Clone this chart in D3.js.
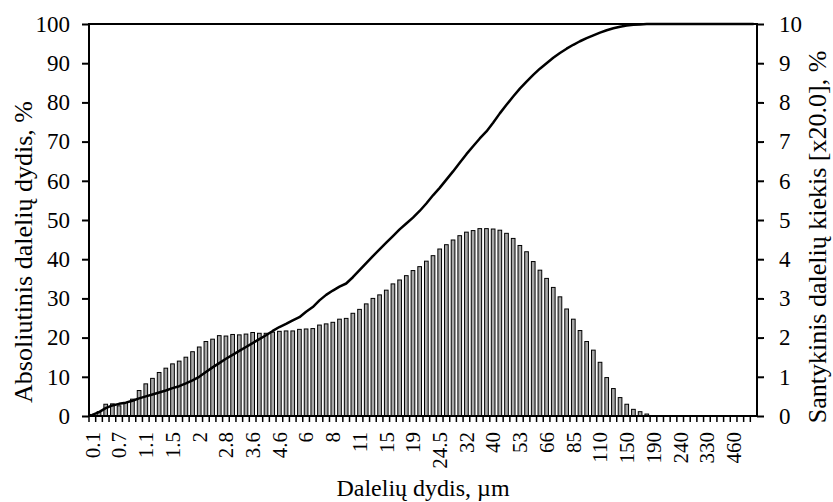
<!DOCTYPE html>
<html>
<head>
<meta charset="utf-8">
<script src="https://cdn.jsdelivr.net/npm/d3@7"></script>
<style>
  body { margin: 0; background: #fff; }
  text { font-family: "Liberation Serif", "Times New Roman", serif; fill: #000; }
</style>
</head>
<body>
<div id="chart"></div>
<script>

var margin = {top: 24, right: 76, bottom: 86, left: 89};
var width = 833 - margin.left - margin.right;
var height = 502 - margin.top - margin.bottom;

// size classes, one label for every 4th class
var classCount = 100;
var tickLabels = ["0.1", "0.7", "1.1", "1.5", "2", "2.8", "3.6", "4.6", "6", "8", "11", "15", "19",
  "24.5", "32", "40", "53", "66", "85", "110", "150", "190", "240", "330", "460"];
var labelStep = 4;

// bars, right axis (relative amount x20, %)
var relative = [0.04, 0.11, 0.30, 0.31, 0.26, 0.34, 0.43, 0.65, 0.82, 0.96,
  1.11, 1.22, 1.33, 1.40, 1.50, 1.64, 1.76, 1.90, 1.96, 2.05,
  2.04, 2.08, 2.07, 2.09, 2.13, 2.11, 2.11, 2.14, 2.16, 2.17,
  2.17, 2.21, 2.22, 2.23, 2.32, 2.35, 2.39, 2.47, 2.49, 2.62,
  2.72, 2.86, 3.00, 3.09, 3.21, 3.37, 3.47, 3.58, 3.71, 3.81,
  3.95, 4.09, 4.26, 4.37, 4.49, 4.60, 4.69, 4.73, 4.78, 4.78,
  4.77, 4.74, 4.66, 4.53, 4.35, 4.19, 3.94, 3.72, 3.51, 3.28,
  3.04, 2.73, 2.47, 2.18, 1.90, 1.68, 1.37, 0.98, 0.70, 0.47,
  0.30, 0.17, 0.11, 0.05, 0, 0, 0, 0, 0, 0,
  0, 0, 0, 0, 0, 0, 0, 0, 0, 0];

// line, left axis (cumulative %)
var cumulative = [0.3, 1.0, 2.0, 2.7, 3.1, 3.4, 3.9, 4.5, 5.0, 5.5,
  6.0, 6.5, 7.1, 7.6, 8.3, 9.1, 10.0, 11.2, 12.4, 13.5,
  14.6, 15.6, 16.6, 17.6, 18.6, 19.6, 20.6, 21.7, 22.7, 23.5,
  24.4, 25.2, 26.6, 27.8, 29.5, 30.9, 32.0, 33.0, 33.8, 35.4,
  37.2, 39.0, 40.8, 42.5, 44.2, 45.9, 47.6, 49.1, 50.6, 52.3,
  54.2, 56.3, 58.2, 60.3, 62.4, 64.6, 66.8, 68.8, 70.8, 72.6,
  74.8, 77.2, 79.4, 81.5, 83.5, 85.3, 87.0, 88.6, 90.0, 91.4,
  92.6, 93.7, 94.7, 95.6, 96.4, 97.1, 97.8, 98.4, 98.9, 99.3,
  99.6, 99.8, 99.9, 100, 100, 100, 100, 100, 100, 100,
  100, 100, 100, 100, 100, 100, 100, 100, 100, 100];

var leftTicks = [0, 10, 20, 30, 40, 50, 60, 70, 80, 90, 100];
var rightTicks = [0, 1, 2, 3, 4, 5, 6, 7, 8, 9, 10];

var leftTitle = "Absoliutinis dalelių dydis, %";
var rightTitle = "Santykinis dalelių kiekis [x20.0], %";
var bottomTitle = "Dalelių dydis, µm";

drawChart();

function drawChart() {

  var svg = d3.select("#chart")
    .append("svg")
    .attr("width", width + margin.left + margin.right)
    .attr("height", height + margin.top + margin.bottom);

  var g = svg.append("g")
    .attr("transform", "translate(" + margin.left + "," + margin.top + ")");

  var classes = d3.range(classCount);

  var x = d3.scaleBand()
    .domain(classes)
    .range([0, width]);

  var yLeft = d3.scaleLinear().domain([0, 100]).range([height, 0]);
  var yRight = d3.scaleLinear().domain([0, 10]).range([height, 0]);

  var barWidth = x.bandwidth() * 0.55;

  // bars
  g.selectAll(".bar")
    .data(classes.filter(function(i) { return relative[i] > 0; }))
    .enter()
    .append("rect")
    .attr("class", "bar")
    .attr("x", function(i) { return x(i) + (x.bandwidth() - barWidth) / 2; })
    .attr("y", function(i) { return yRight(relative[i]); })
    .attr("width", barWidth)
    .attr("height", function(i) { return height - yRight(relative[i]); })
    .attr("fill", "#a8a8a8")
    .attr("stroke", "#000")
    .attr("stroke-width", 1);

  // cumulative line
  var line = d3.line()
    .x(function(i) { return x(i) + x.bandwidth() / 2; })
    .y(function(i) { return yLeft(cumulative[i]); });

  g.append("path")
    .datum(classes)
    .attr("d", line)
    .attr("fill", "none")
    .attr("stroke", "#000")
    .attr("stroke-width", 2.5)
    .attr("stroke-linejoin", "round");

  // x tick marks between classes
  g.selectAll(".xtick")
    .data(classes)
    .enter()
    .append("line")
    .attr("class", "xtick")
    .attr("x1", function(i) { return x(i); })
    .attr("x2", function(i) { return x(i); })
    .attr("y1", height)
    .attr("y2", height + 6)
    .attr("stroke", "#000")
    .attr("stroke-width", 1.5);

  // x labels
  var xAxis = d3.axisBottom(x)
    .tickValues(classes.filter(function(i) { return i % labelStep == 0 && i / labelStep < tickLabels.length; }))
    .tickFormat(function(i) { return tickLabels[i / labelStep]; })
    .tickSize(0);

  var xg = g.append("g")
    .attr("transform", "translate(0," + height + ")")
    .call(xAxis);
  xg.select(".domain").remove();
  xg.selectAll("text")
    .style("font-size", "21px")
    .style("font-family", null)
    .attr("text-anchor", "end")
    .attr("y", 0)
    .attr("x", 0)
    .attr("dy", "0.35em")
    .attr("transform", "translate(0,16) rotate(-90)");

  // left axis
  var yAxisLeft = d3.axisLeft(yLeft).tickValues(leftTicks).tickSize(7).tickPadding(12).tickSizeOuter(0);
  var lg = g.append("g").call(yAxisLeft);
  lg.select(".domain").remove();
  lg.selectAll("line").attr("stroke-width", 2);
  lg.selectAll("text").style("font-size", "23px").style("font-family", null);

  // right axis
  var yAxisRight = d3.axisRight(yRight).tickValues(rightTicks).tickSize(7).tickPadding(15).tickSizeOuter(0);
  var rg = g.append("g").attr("transform", "translate(" + width + ",0)").call(yAxisRight);
  rg.select(".domain").remove();
  rg.selectAll("line").attr("stroke-width", 2);
  rg.selectAll("text").style("font-size", "23px").style("font-family", null);

  // frame
  g.append("rect")
    .attr("x", 0)
    .attr("y", 0)
    .attr("width", width)
    .attr("height", height)
    .attr("fill", "none")
    .attr("stroke", "#000")
    .attr("stroke-width", 2);

  // titles
  svg.append("text")
    .attr("transform", "translate(32,252) rotate(-90)")
    .attr("text-anchor", "middle")
    .style("font-size", "26px")
    .text(leftTitle);

  svg.append("text")
    .attr("transform", "translate(826,237) rotate(-90)")
    .attr("text-anchor", "middle")
    .style("font-size", "26px")
    .text(rightTitle);

  svg.append("text")
    .attr("x", 423)
    .attr("y", 496)
    .attr("text-anchor", "middle")
    .style("font-size", "24px")
    .text(bottomTitle);
}

</script>
</body>
</html>
